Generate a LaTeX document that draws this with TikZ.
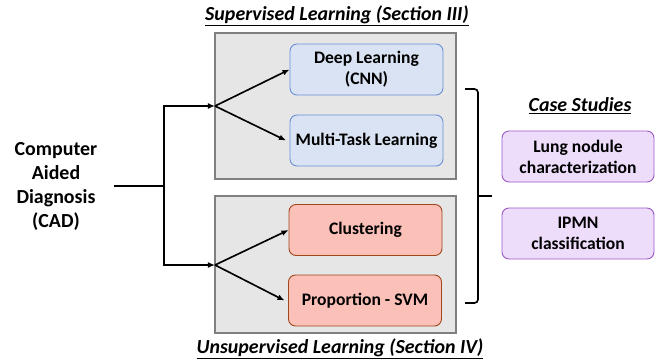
\documentclass[tikz,border=0pt]{standalone}
\usepackage{fontspec}
\setmainfont{Carlito}
\usetikzlibrary{arrows.meta}

\definecolor{grayfill}{HTML}{E6E6E6}
\definecolor{graydraw}{HTML}{808080}
\definecolor{bluefill}{HTML}{DAE3F3}
\definecolor{bluedraw}{HTML}{6B8FD6}
\definecolor{redfill}{HTML}{FBC0B8}
\definecolor{reddraw}{HTML}{A0471C}
\definecolor{purplefill}{HTML}{EEDDFA}
\definecolor{purpledraw}{HTML}{9B59C8}

\tikzset{
	panel/.style={draw=graydraw, fill=grayfill, line width=1.2pt, minimum width=7.23cm},
	method/.style={draw, rounded corners=6pt, line width=0.8pt, minimum width=4.59cm,
		minimum height=1.53cm, align=center, inner sep=1pt, font=\fontsize{15}{18}\selectfont\bfseries},
	casebox/.style={method, draw=purpledraw, fill=purplefill},
	heading/.style={font=\fontsize{17}{20}\selectfont\bfseries\itshape},
	link/.style={line width=1.4pt, -{Latex[length=6pt,width=5pt]}},
}

\begin{document}
\begin{tikzpicture}[x=0.03cm, y=-0.03cm]
	\useasboundingbox (0, 0) rectangle (655, 360);

	\node (SupTitle) [heading] at (337, 16) {\underline{Supervised Learning (Section III)}};
	\node (SupBox) [panel, minimum height=4.38cm] at (335.5, 106) {};

	\node (DL) [method, draw=bluedraw, fill=bluefill] at (366.5, 69.5) {Deep Learning\\(CNN)};
	\node (MT) [method, draw=bluedraw, fill=bluefill] at (366.5, 140.5) {Multi-Task Learning};

	\node (UnsupBox) [panel, minimum height=4.11cm] at (335.5, 264.5) {};
	\node (UnsupTitle) [heading] at (340, 349) {\underline{Unsupervised Learning (Section IV)}};

	\node (Clus) [method, draw=reddraw, fill=redfill] at (365.5, 230) {Clustering};
	\node (Prop) [method, draw=reddraw, fill=redfill] at (365, 300.5) {Proportion - SVM};

	\node (CAD) [align=center, font=\fontsize{17}{20.5}\selectfont\bfseries] at (56, 186)
		{Computer\\Aided\\Diagnosis\\(CAD)};
	\coordinate (Split) at (164, 186);
	\coordinate (SupTurn) at (164, 106);
	\coordinate (UnsupTurn) at (164, 265);
	\coordinate (SupFork) at (215, 106);
	\coordinate (UnsupFork) at (215, 265);

	\draw [line width=1.4pt] (114, 186) -- (Split);
	\draw [link] (Split) -- (SupTurn) -- (SupFork);
	\draw [link] (Split) -- (UnsupTurn) -- (UnsupFork);

	\draw [link] (SupFork) -- (DL.west);
	\draw [link] (SupFork) -- ([xshift=-3pt]MT.west);
	\draw [link] (UnsupFork) -- (Clus.west);
	\draw [link] (UnsupFork) -- ([xshift=-3pt]Prop.west);

	% bracket to the case studies
	\coordinate (BrTop) at (465, 89);
	\coordinate (BrBot) at (465, 303);
	\coordinate (BrTip) at (492, 196);
	\draw [line width=1.4pt, rounded corners=3pt] (BrTop) -- (478, 89) -- (478, 303) -- (BrBot);
	\draw [line width=1.4pt] (478, 196) -- (BrTip);

	\node (CaseTitle) [heading] at (580, 106) {\underline{Case Studies}};
	\node (Lung) [casebox, minimum width=4.56cm] at (578, 156.5) {Lung nodule\\characterization};
	\node (IPMN) [casebox, minimum width=4.56cm] at (578, 233.5) {IPMN\\classification};
\end{tikzpicture}
\end{document}
